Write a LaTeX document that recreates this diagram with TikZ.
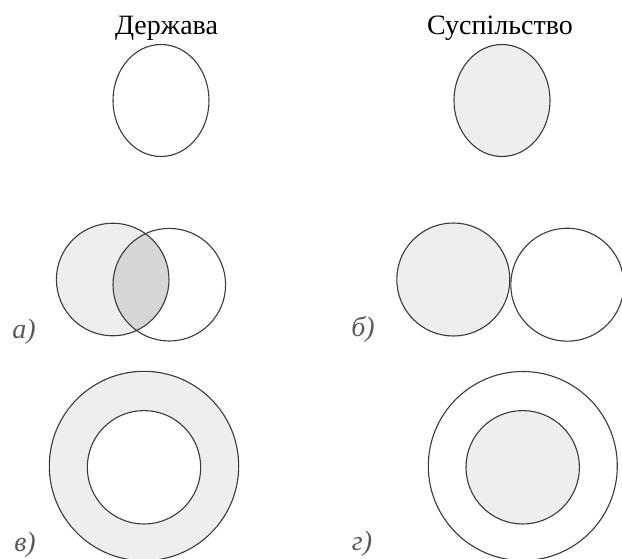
\documentclass[tikz,border=0pt]{standalone}
\usepackage{fontspec}
\setmainfont{Liberation Serif}
\definecolor{linegray}{HTML}{3A3A3A}
\definecolor{lightfill}{HTML}{EEEEEE}
\definecolor{darkfill}{HTML}{D6D6D6}
\definecolor{labelgray}{HTML}{5A5A5A}
\begin{document}
\begin{tikzpicture}[x=1pt,y=-1pt,
  outline/.style={draw=linegray, line width=1.1pt},
  title/.style={font=\fontsize{28}{32}\selectfont, text=black, inner sep=0pt, anchor=base},
  caselabel/.style={font=\itshape\fontsize{28}{32}\selectfont, text=labelgray, inner sep=0pt}]
\useasboundingbox (0,0) rectangle (622,559);
\fill[white] (0,0) rectangle (622,559);

% titles
\node[title] (tD) at (166.5,35) {Держава};
\node[title] (tS) at (500,35) {Суспільство};

% top row
\draw[outline, fill=white] (161,100.5) ellipse [x radius=48, y radius=56];
\draw[outline, fill=lightfill] (502,100.5) ellipse [x radius=48, y radius=56];

% a) overlapping
\fill[lightfill] (112.7,279.5) circle [radius=56.3];
\begin{scope}
  \clip (112.7,279.5) circle [radius=56.3];
  \fill[darkfill] (169.3,284.7) circle [radius=56.3];
\end{scope}
\draw[outline] (112.7,279.5) circle [radius=56.3];
\draw[outline] (169.3,284.7) circle [radius=56.3];
\node[caselabel] (la) at (24,332) {а)};

% б) touching
\draw[outline, fill=lightfill] (453.3,279.5) circle [radius=56.5];
\draw[outline] (567.3,284.7) circle [radius=56.5];
\node[caselabel] (lb) at (363,329) {б)};

% в) outer filled
\draw[outline, fill=lightfill] (144,466) circle [radius=94.7];
\draw[outline, fill=white] (144,467.3) circle [radius=56.7];
\node[caselabel] (lv) at (25,545) {в)};

% г) inner filled
\draw[outline, fill=white] (522.8,466) circle [radius=94.5];
\draw[outline, fill=lightfill] (522.7,467.3) circle [radius=56.7];
\node[caselabel] (lg) at (362,544) {г)};
\end{tikzpicture}
\end{document}
